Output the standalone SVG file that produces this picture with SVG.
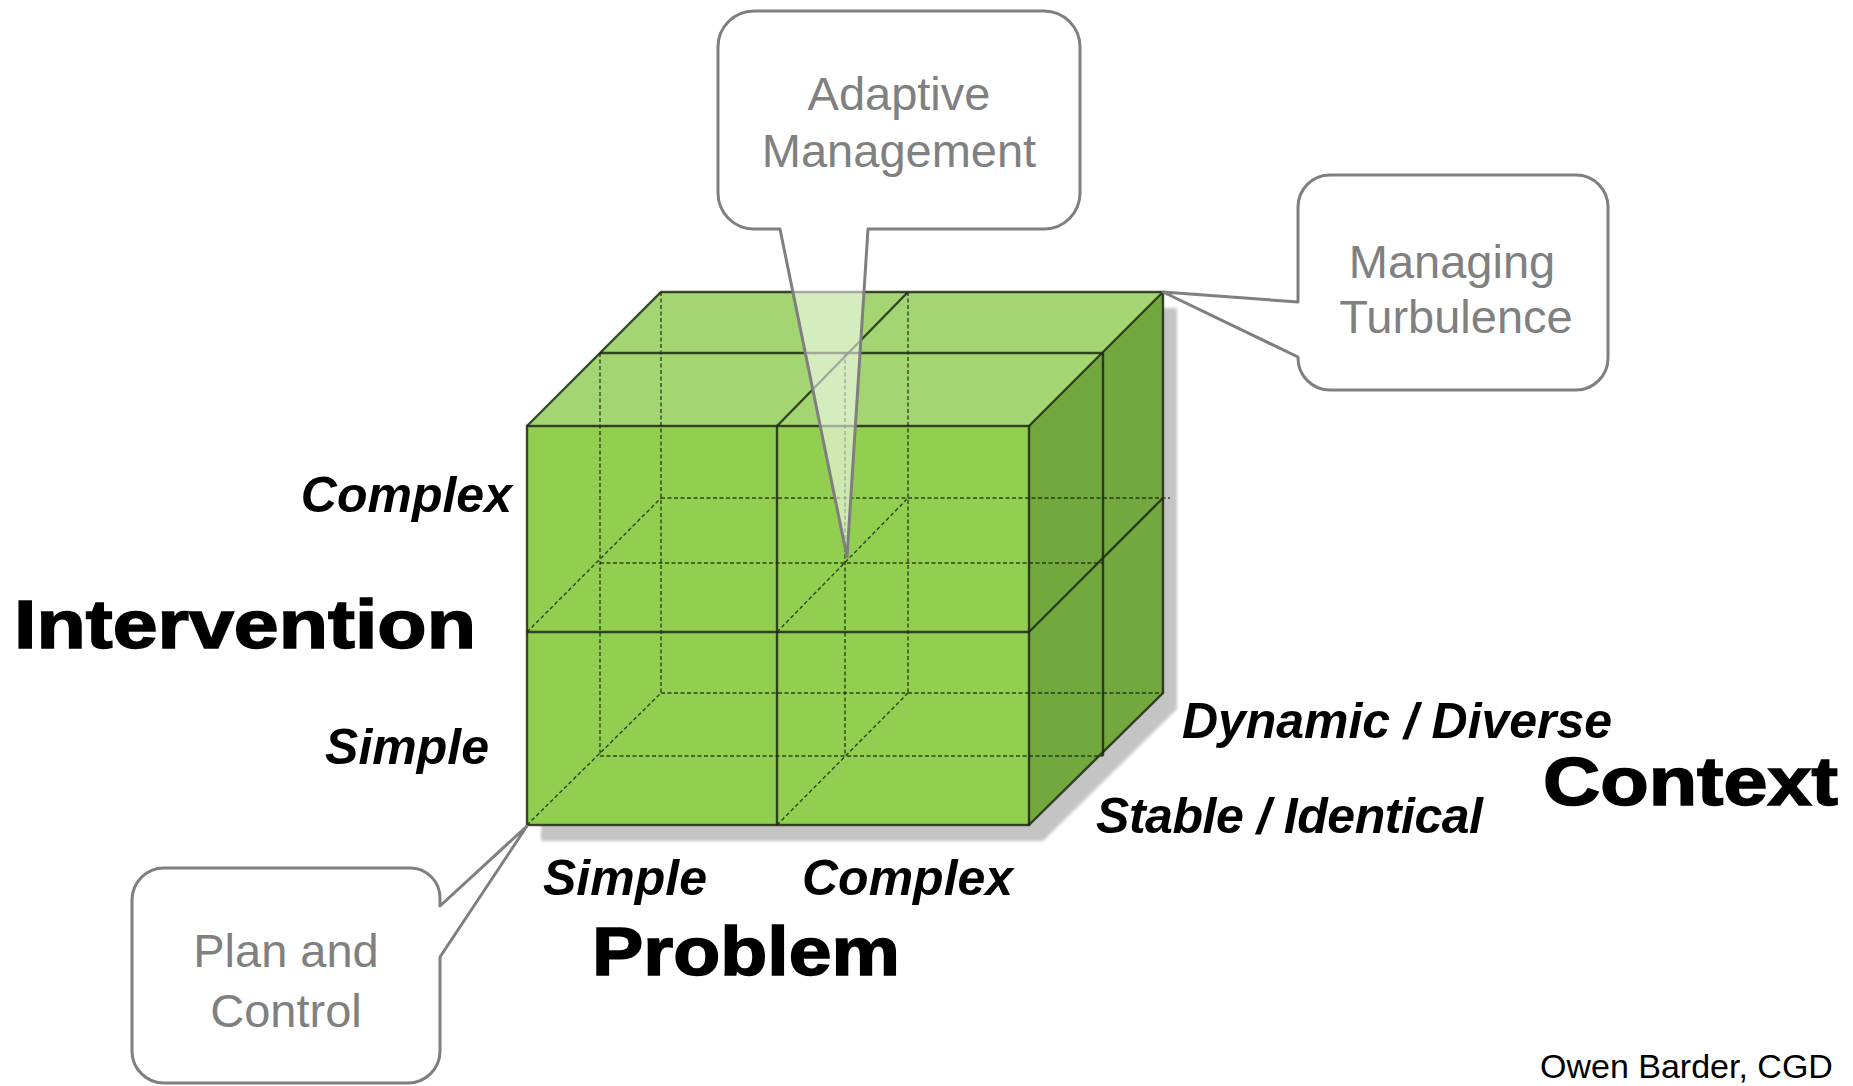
<svg xmlns="http://www.w3.org/2000/svg" width="1853" height="1086" viewBox="0 0 1853 1086">
<defs>
<filter id="blur" x="-5%" y="-5%" width="110%" height="110%"><feGaussianBlur stdDeviation="1.5"/></filter>
<style>
.solid{stroke:#1e2814;stroke-width:2.4;fill:none;stroke-opacity:0.85}
.dash{stroke:#1e2814;stroke-width:1.4;fill:none;stroke-dasharray:4 2.5;stroke-opacity:0.85}
.callout{fill:#ffffff;fill-opacity:0.55;stroke:#7f7f7f;stroke-width:3;stroke-linejoin:round}
.ctext{font-family:"Liberation Sans",Arial,sans-serif;font-size:47px;fill:#808080;text-anchor:middle}
.axv{font-family:"Liberation Sans",Arial,sans-serif;font-size:50px;font-weight:bold;font-style:italic;fill:#000}
.axis{font-family:"Liberation Sans",Arial,sans-serif;font-size:69px;font-weight:bold;fill:#000;stroke:#000;stroke-width:1.6}
</style>
</defs>
<rect width="1853" height="1086" fill="#ffffff"/>

<g id="cube">
  <polygon points="541,442 675,308 1177,308 1177,709 1043,841 541,841" fill="#c4c4c4" filter="url(#blur)"/>
  <polygon points="527,426 661,292 1163,292 1029,426" fill="#a3d672"/>
  <polygon points="1029,426 1163,292 1163,693 1029,825" fill="#72a83e"/>
  <rect x="527" y="426" width="502" height="399" fill="#92cf50"/>
</g>

<g id="connectors">
  <line class="dash" x1="661" y1="292" x2="661" y2="693"/>
  <line class="dash" x1="908" y1="292" x2="908" y2="693"/>
  <line class="dash" x1="661" y1="693" x2="1163" y2="693"/>
  <line class="dash" x1="661" y1="498" x2="1170" y2="498"/>
  <line class="dash" x1="600" y1="353" x2="600" y2="756"/>
  <line class="dash" x1="845" y1="353" x2="845" y2="756"/>
  <line class="dash" x1="600" y1="756" x2="1103" y2="756"/>
  <line class="dash" x1="600" y1="563" x2="1103" y2="563"/>
  <line class="dash" x1="527" y1="632" x2="661" y2="498"/>
  <line class="dash" x1="777" y1="632" x2="908" y2="498"/>
  <line class="dash" x1="527" y1="825" x2="661" y2="693"/>
  <line class="dash" x1="777" y1="825" x2="908" y2="693"/>
  <line class="solid" x1="600" y1="353" x2="1103" y2="353"/>
  <line class="solid" x1="1103" y1="353" x2="1103" y2="756"/>
  <line class="solid" x1="777" y1="426" x2="908" y2="292"/>
  <line class="solid" x1="1029" y1="632" x2="1163" y2="498"/>
  <line class="solid" x1="777" y1="426" x2="777" y2="825"/>
  <line class="solid" x1="527" y1="632" x2="1029" y2="632"/>
  <rect class="solid" x="527" y="426" width="502" height="399"/>
  <polyline class="solid" points="527,426 661,292 1163,292 1163,693 1029,825"/>
  <line class="solid" x1="1029" y1="426" x2="1163" y2="292"/>
</g>

<g id="adaptive-management">
  <path class="callout" d="M 754,11 H 1044 A 36 36 0 0 1 1080,47 V 193 A 36 36 0 0 1 1044,229 H 868 L 847,557 L 780,229 H 754 A 36 36 0 0 1 718,193 V 47 A 36 36 0 0 1 754,11 Z"/>
  <text class="ctext" x="899" y="110">Adaptive</text>
  <text class="ctext" x="899" y="167">Management</text>
</g>

<g id="managing-turbulence">
  <path class="callout" d="M 1330,175 H 1576 A 32 32 0 0 1 1608,207 V 358 A 32 32 0 0 1 1576,390 H 1330 A 32 32 0 0 1 1298,358 V 357 L 1163,292 L 1298,302 V 207 A 32 32 0 0 1 1330,175 Z"/>
  <text class="ctext" x="1452" y="278">Managing</text>
  <text class="ctext" x="1456" y="333">Turbulence</text>
</g>

<g id="plan-and-control">
  <path class="callout" d="M 164,868 H 410 A 30 30 0 0 1 440,898 V 906 L 527,826 L 440,957 V 1051 A 32 32 0 0 1 408,1083 H 164 A 32 32 0 0 1 132,1051 V 900 A 32 32 0 0 1 164,868 Z"/>
  <text class="ctext" x="286" y="967">Plan and</text>
  <text class="ctext" x="286" y="1027">Control</text>
</g>

<g id="labels">
  <text class="axv" x="512" y="512" text-anchor="end">Complex</text>
  <text class="axv" x="489" y="764" text-anchor="end">Simple</text>
  <text class="axv" x="543" y="895">Simple</text>
  <text class="axv" x="802" y="895">Complex</text>
  <text class="axv" x="1182" y="738" textLength="430">Dynamic / Diverse</text>
  <text class="axv" x="1096" y="833" textLength="387">Stable / Identical</text>
  <text class="axis" x="14" y="648" textLength="462" lengthAdjust="spacingAndGlyphs">Intervention</text>
  <text class="axis" x="592" y="975" textLength="308" lengthAdjust="spacingAndGlyphs">Problem</text>
  <text class="axis" x="1543" y="805" textLength="295" lengthAdjust="spacingAndGlyphs">Context</text>
  <text x="1540" y="1078" font-family="'Liberation Sans',Arial,sans-serif" font-size="34" fill="#000">Owen Barder, CGD</text>
</g>
</svg>
